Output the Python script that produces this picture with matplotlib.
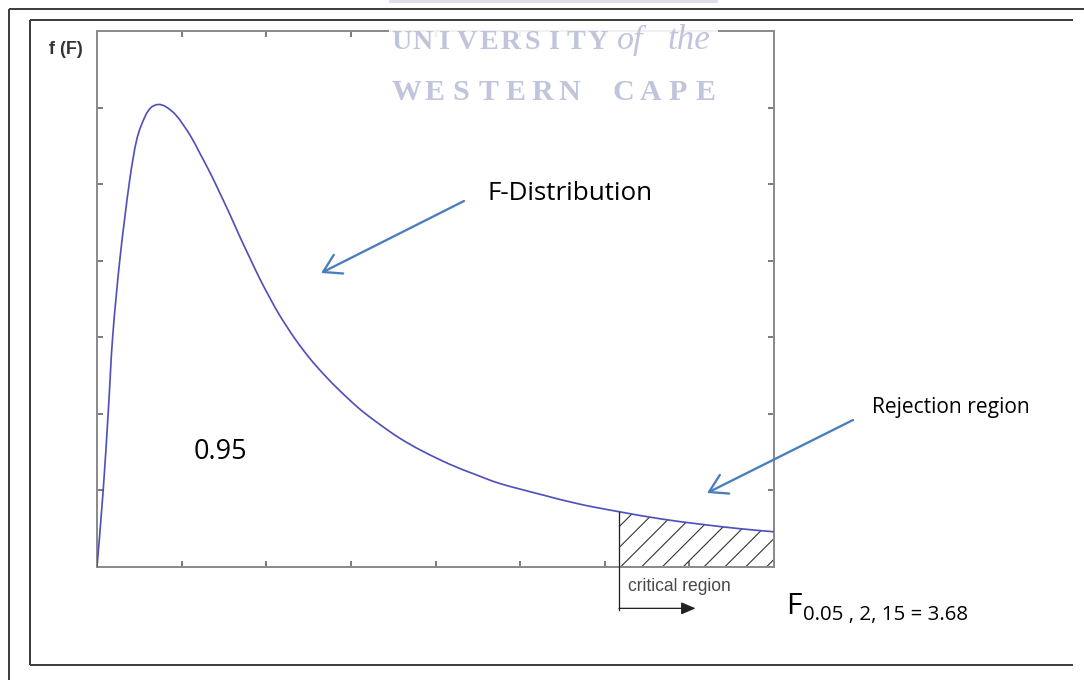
import numpy as np
import matplotlib
matplotlib.use("Agg")
import matplotlib.pyplot as plt
from matplotlib.patches import FancyArrowPatch, Rectangle, PathPatch
from matplotlib.path import Path

# F-distribution density curve
f_values = [0.000, 0.044, 0.080, 0.111, 0.162, 0.228, 0.280, 0.338, 0.381,
            0.432, 0.486, 0.562, 0.656, 0.726, 0.797, 0.867, 0.938, 1.008,
            1.079, 1.149, 1.220, 1.290, 1.396, 1.502, 1.607, 1.713, 1.854,
            1.995, 2.136, 2.298, 2.489, 2.665, 2.841, 3.123, 3.405, 3.687,
            3.969, 4.251, 4.533, 4.773]
density = [0.000, 0.101, 0.205, 0.302, 0.403, 0.502, 0.558, 0.588, 0.600,
           0.604, 0.601, 0.589, 0.564, 0.540, 0.515, 0.488, 0.460, 0.431,
           0.403, 0.376, 0.351, 0.328, 0.298, 0.272, 0.250, 0.230, 0.206,
           0.186, 0.168, 0.151, 0.134, 0.121, 0.109, 0.095, 0.082, 0.072,
           0.063, 0.056, 0.050, 0.046]

critical_value = 3.68          # F(0.05; 2, 15)
confidence_label = "0.95"
x_max = 4.773
y_max = 0.7
n_x_ticks = 9
y_ticks = [0.0, 0.1, 0.2, 0.3, 0.4, 0.5, 0.6, 0.7]

W, H, DPI = 1084, 680, 125


def pt(px):
    """Convert a length in pixels to points at the figure dpi."""
    return px * 72.0 / DPI


def smooth_path(x, y):
    """Cubic Bezier path passing through every (x, y) point (Catmull-Rom)."""
    p = np.column_stack([x, y])
    ext = np.vstack([p[0], p, p[-1]])
    verts = [p[0]]
    codes = [Path.MOVETO]
    for i in range(len(p) - 1):
        p0, p1, p2, p3 = ext[i], ext[i + 1], ext[i + 2], ext[i + 3]
        verts += [p1 + (p2 - p0) / 6.0, p2 - (p3 - p1) / 6.0, p2]
        codes += [Path.CURVE4] * 3
    return Path(verts, codes)


plt.rcParams["hatch.linewidth"] = pt(1.1)
plt.rcParams["hatch.color"] = "#333333"

fig = plt.figure(figsize=(W / DPI, H / DPI), dpi=DPI)
fig.patch.set_facecolor("white")

# ---- main density plot -------------------------------------------------
ax = fig.add_axes([97 / W, (H - 567) / H, 677 / W, 536 / H])
xs = np.array(f_values)
ys = np.array(density)

ax.add_patch(PathPatch(smooth_path(xs, ys), fill=False, edgecolor="#5050bd",
                       lw=pt(1.7), joinstyle="round", capstyle="round",
                       zorder=3))

# hatched rejection region to the right of the critical value
y_crit = np.interp(critical_value, xs, ys)
mask = xs > critical_value
tail_x = np.concatenate([[critical_value], xs[mask]])
tail_y = np.concatenate([[y_crit], ys[mask]])
ax.fill_between(tail_x, tail_y, 0, facecolor="none", edgecolor="#333333",
                hatch="//", linewidth=0, zorder=2)

ax.set_xlim(0, x_max)
ax.set_ylim(0, y_max)
ax.set_xticks(np.linspace(0, x_max, n_x_ticks))
ax.set_yticks(y_ticks)
ax.tick_params(direction="in", length=pt(6), width=pt(1.5), color="#555555",
               top=True, right=True, labelbottom=False, labelleft=False)
for s in ax.spines.values():
    s.set_color("#8c8c8c")
    s.set_linewidth(pt(2))

# critical-value marker below the axis
ax.plot([critical_value, critical_value], [y_crit, -0.056], color="#222222",
        lw=pt(1.3), clip_on=False, zorder=4)
ax.add_patch(FancyArrowPatch((critical_value, -0.054), (4.22, -0.054),
                             arrowstyle="-|>,head_length=7,head_width=3",
                             mutation_scale=1, color="#222222", lw=pt(1.3),
                             shrinkA=0, shrinkB=0, clip_on=False, zorder=4))
ax.text(3.745, -0.026, "critical region", fontsize=pt(17.5),
        family="Liberation Sans", color="#4a4a4a", ha="left", va="center",
        clip_on=False)

# ---- page overlay (pixel coordinates) -----------------------------------
ov = fig.add_axes([0, 0, 1, 1], zorder=5)
ov.set_xlim(0, W)
ov.set_ylim(H, 0)
ov.axis("off")
ov.patch.set_alpha(0)

# university watermark
ov.add_patch(Rectangle((389, 3), 329, 99, facecolor="white", alpha=0.88,
                       edgecolor="none", zorder=1))
ov.add_patch(Rectangle((389, 0), 329, 3, facecolor="#dcdff0",
                       edgecolor="none", zorder=1))
wm_color = "#c0c4dc"
for ch, cx in zip("UNIVERSITY", np.linspace(401, 598, 10)):
    ov.text(cx, 49, ch, fontsize=pt(28), family="Liberation Serif",
            fontweight="bold", color=wm_color, ha="center", va="baseline",
            zorder=2)
ov.text(617, 49, "of", fontsize=pt(34), family="Liberation Serif",
        style="italic", color=wm_color, ha="left", va="baseline", zorder=2)
ov.text(667, 49, "the", fontsize=pt(35), family="Liberation Serif",
        style="italic", color=wm_color, ha="left", va="baseline", zorder=2)
for ch, cx in zip("WESTERN CAPE", np.linspace(407, 705, 12)):
    if ch != " ":
        ov.text(cx, 100, ch, fontsize=pt(30), family="Liberation Serif",
                fontweight="bold", color=wm_color, ha="center",
                va="baseline", zorder=2)

# page frame lines
frame_kw = dict(color="#3f3f3f", lw=pt(2), solid_capstyle="butt", zorder=3)
ov.plot([9, W], [9, 9], **frame_kw)
ov.plot([9, 9], [9, H], **frame_kw)
ov.plot([30, 1073], [20, 20], **frame_kw)
ov.plot([30, 30], [20, 665], **frame_kw)
ov.plot([30, 1073], [665, 665], **frame_kw)

# axis label
ov.text(49, 49, "f (F)", fontsize=pt(18), family="Liberation Sans",
        fontweight="bold", color="#333333", ha="left", va="center")

# annotations
label_font = "Open Sans"
ov.text(487, 193, "F-Distribution", fontsize=pt(26), family=label_font,
        color="black", ha="left", va="center")
ov.text(194, 452, confidence_label, fontsize=pt(27), family=label_font,
        color="black", ha="left", va="center")
ov.text(872, 407, "Rejection region", fontsize=pt(21), family=label_font,
        color="black", ha="left", va="center")
ov.text(786, 614, "F", fontsize=pt(30), family=label_font, color="black",
        ha="left", va="baseline")
ov.text(803, 620, f"0.05 , 2, 15 = {critical_value:.2f}", fontsize=pt(20.5),
        family=label_font, color="black", ha="left", va="baseline")

arrow_color = "#4a7ebb"
for tail, head in [((464, 201), (321, 273)), ((853, 420), (707, 493))]:
    ov.add_patch(FancyArrowPatch(tail, head,
                                 arrowstyle="->,head_length=10,head_width=6",
                                 mutation_scale=1, color=arrow_color,
                                 lw=pt(2.3), shrinkA=0, shrinkB=0,
                                 capstyle="round", joinstyle="round"))

fig.savefig("out.png", dpi=DPI, facecolor="white")
